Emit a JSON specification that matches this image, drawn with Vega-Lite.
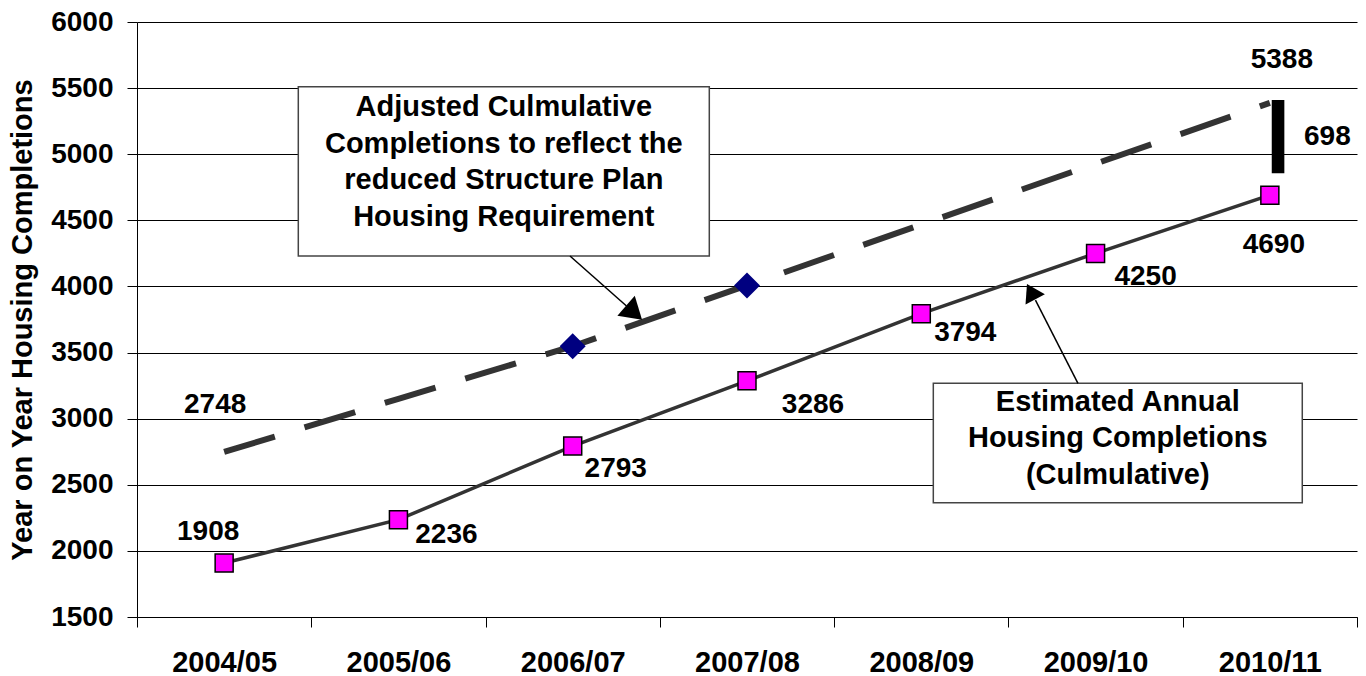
{
  "$schema": "https://vega.github.io/schema/vega-lite/v6.json",
  "width": 1220,
  "height": 595,
  "autosize": {"type": "none"},
  "padding": {"left": 137, "top": 22, "right": 9, "bottom": 59},
  "background": "white",
  "config": {
    "view": {"stroke": null},
    "font": "Liberation Sans",
    "text": {"font": "Liberation Sans", "fontWeight": "bold", "color": "#000000"}
  },
  "datasets": {
    "housing": [
      {"year": "2004/05", "period": 0, "estimated": 1908, "adjusted": 2748},
      {"year": "2005/06", "period": 1, "estimated": 2236, "adjusted": 3150},
      {"year": "2006/07", "period": 2, "estimated": 2793, "adjusted": 3548},
      {"year": "2007/08", "period": 3, "estimated": 3286, "adjusted": 4008},
      {"year": "2008/09", "period": 4, "estimated": 3794, "adjusted": 4468},
      {"year": "2009/10", "period": 5, "estimated": 4250, "adjusted": 4928},
      {"year": "2010/11", "period": 6, "estimated": 4690, "adjusted": 5388}
    ],
    "boxes": [
      {"name": "adjusted", "p0": 0.4255, "p1": 2.7837, "v0": 4230, "v1": 5511, "pt": 1.6046, "vt": 5289,
       "lines": ["Adjusted Culmulative", "Completions to reflect the", "reduced Structure Plan", "Housing Requirement"]},
      {"name": "estimated", "p0": 4.069, "p1": 6.186, "v0": 2364, "v1": 3267, "pt": 5.1275, "vt": 3060,
       "lines": ["Estimated Annual", "Housing Completions", "(Culmulative)"]}
    ],
    "arrows": [
      {"name": "adjusted", "p0": 1.9844, "v0": 4230, "p1": 2.3086, "v1": 3852, "ph": 2.352, "vh": 3801},
      {"name": "estimated", "p0": 4.899, "v0": 3267, "p1": 4.655, "v1": 3897, "ph": 4.63, "vh": 3960}
    ],
    "gap": [
      {"p": 6.047, "v0": 4856, "v1": 5410, "label": "698", "pl": 6.33, "vl": 5130}
    ]
  },
  "layer": [
    {
      "data": {"name": "housing"},
      "mark": {"type": "line", "stroke": "#333333", "strokeWidth": 6, "strokeDash": [53, 31], "strokeCap": "butt"},
      "encoding": {
        "x": {
          "field": "period", "type": "quantitative",
          "scale": {"domain": [-0.5, 6.5], "nice": false, "zero": false},
          "axis": {
            "title": null,
            "values": [-0.5, 0, 0.5, 1, 1.5, 2, 2.5, 3, 3.5, 4, 4.5, 5, 5.5, 6, 6.5],
            "grid": false,
            "domainColor": "#000000", "domainWidth": 1,
            "tickColor": "#000000", "tickSize": 10, "tickWidth": 1,
            "tickOpacity": {"condition": {"test": "datum.value % 1 === 0", "value": 0}, "value": 1},
            "labelExpr": "datum.value % 1 === 0 ? ['2004/05','2005/06','2006/07','2007/08','2008/09','2009/10','2010/11'][datum.value] : ''",
            "labelFont": "Liberation Sans", "labelFontSize": 29, "labelFontWeight": "bold", "labelColor": "#000000",
            "labelPadding": 21, "labelFlush": false, "labelOverlap": false, "labelBound": false
          }
        },
        "y": {
          "field": "adjusted", "type": "quantitative",
          "scale": {"domain": [1500, 6000], "nice": false, "zero": false},
          "axis": {
            "title": "Year on Year Housing Completions",
            "format": "d",
            "values": [1500, 2000, 2500, 3000, 3500, 4000, 4500, 5000, 5500, 6000],
            "grid": true, "gridColor": "#000000", "gridWidth": 1,
            "domainColor": "#000000", "domainWidth": 1,
            "tickColor": "#000000", "tickSize": 10, "tickWidth": 1,
            "labelFont": "Liberation Sans", "labelFontSize": 28, "labelFontWeight": "bold", "labelColor": "#000000",
            "labelPadding": 14, "labelFlush": false, "labelOverlap": false, "labelBound": false,
            "titleFont": "Liberation Sans", "titleFontSize": 29, "titleFontWeight": "bold", "titleColor": "#000000",
            "titlePadding": 13
          }
        }
      }
    },
    {
      "data": {"name": "housing"},
      "mark": {"type": "line", "stroke": "#333333", "strokeWidth": 3.5},
      "encoding": {
        "x": {"field": "period", "type": "quantitative"},
        "y": {"field": "estimated", "type": "quantitative"}
      }
    },
    {
      "data": {"name": "housing"},
      "mark": {"type": "point", "shape": "square", "size": 324, "filled": true, "fill": "#FF00FF", "stroke": "#000000", "strokeWidth": 1.5, "opacity": 1},
      "encoding": {
        "x": {"field": "period", "type": "quantitative"},
        "y": {"field": "estimated", "type": "quantitative"}
      }
    },
    {
      "data": {"name": "housing"},
      "transform": [{"filter": {"field": "year", "oneOf": ["2006/07", "2007/08"]}}],
      "mark": {"type": "point", "shape": "diamond", "size": 676, "filled": true, "fill": "#000080", "strokeWidth": 0, "opacity": 1},
      "encoding": {
        "x": {"field": "period", "type": "quantitative"},
        "y": {"field": "adjusted", "type": "quantitative"}
      }
    },
    {
      "data": {"name": "boxes"},
      "mark": {"type": "rect", "fill": "#FFFFFF", "stroke": "#444444", "strokeWidth": 1.5},
      "encoding": {
        "x": {"field": "p0", "type": "quantitative"},
        "x2": {"field": "p1"},
        "y": {"field": "v0", "type": "quantitative"},
        "y2": {"field": "v1"}
      }
    },
    {
      "data": {"name": "boxes"},
      "mark": {"type": "text", "align": "center", "baseline": "alphabetic", "fontSize": 29, "fontWeight": "bold", "lineHeight": 36.5, "color": "#000000"},
      "encoding": {
        "x": {"field": "pt", "type": "quantitative"},
        "y": {"field": "vt", "type": "quantitative"},
        "text": {"field": "lines"}
      }
    },
    {
      "data": {"name": "arrows"},
      "mark": {"type": "rule", "stroke": "#000000", "strokeWidth": 1.5},
      "encoding": {
        "x": {"field": "p0", "type": "quantitative"},
        "y": {"field": "v0", "type": "quantitative"},
        "x2": {"field": "p1"},
        "y2": {"field": "v1"}
      }
    },
    {
      "data": {"name": "arrows"},
      "transform": [{"filter": "datum.name === 'adjusted'"}],
      "mark": {"type": "point", "shape": "M0,-0.8L1,0.8L-1,0.8Z", "size": 700, "angle": 131, "filled": true, "fill": "#000000", "strokeWidth": 0, "opacity": 1},
      "encoding": {
        "x": {"field": "ph", "type": "quantitative"},
        "y": {"field": "vh", "type": "quantitative"}
      }
    },
    {
      "data": {"name": "arrows"},
      "transform": [{"filter": "datum.name === 'estimated'"}],
      "mark": {"type": "point", "shape": "M0,-0.8L1,0.8L-1,0.8Z", "size": 480, "angle": 332, "filled": true, "fill": "#000000", "strokeWidth": 0, "opacity": 1},
      "encoding": {
        "x": {"field": "ph", "type": "quantitative"},
        "y": {"field": "vh", "type": "quantitative"}
      }
    },
    {
      "data": {"name": "gap"},
      "mark": {"type": "rule", "stroke": "#000000", "strokeWidth": 12.6, "strokeCap": "butt"},
      "encoding": {
        "x": {"field": "p", "type": "quantitative"},
        "y": {"field": "v0", "type": "quantitative"},
        "y2": {"field": "v1"}
      }
    },
    {
      "data": {"name": "gap"},
      "mark": {"type": "text", "align": "center", "baseline": "middle", "fontSize": 28, "fontWeight": "bold"},
      "encoding": {
        "x": {"field": "pl", "type": "quantitative"},
        "y": {"field": "vl", "type": "quantitative"},
        "text": {"field": "label"}
      }
    },
    {
      "data": {"name": "housing"},
      "transform": [{"filter": "datum.year === '2004/05'"}],
      "mark": {"type": "text", "align": "center", "baseline": "middle", "fontSize": 28, "fontWeight": "bold", "dx": -16, "dy": -31},
      "encoding": {
        "x": {"field": "period", "type": "quantitative"},
        "y": {"field": "estimated", "type": "quantitative"},
        "text": {"field": "estimated", "type": "quantitative", "format": "d"}
      }
    },
    {
      "data": {"name": "housing"},
      "transform": [{"filter": "datum.year === '2005/06'"}],
      "mark": {"type": "text", "align": "center", "baseline": "middle", "fontSize": 28, "fontWeight": "bold", "dx": 48, "dy": 15},
      "encoding": {
        "x": {"field": "period", "type": "quantitative"},
        "y": {"field": "estimated", "type": "quantitative"},
        "text": {"field": "estimated", "type": "quantitative", "format": "d"}
      }
    },
    {
      "data": {"name": "housing"},
      "transform": [{"filter": "datum.year === '2006/07'"}],
      "mark": {"type": "text", "align": "center", "baseline": "middle", "fontSize": 28, "fontWeight": "bold", "dx": 43, "dy": 23},
      "encoding": {
        "x": {"field": "period", "type": "quantitative"},
        "y": {"field": "estimated", "type": "quantitative"},
        "text": {"field": "estimated", "type": "quantitative", "format": "d"}
      }
    },
    {
      "data": {"name": "housing"},
      "transform": [{"filter": "datum.year === '2007/08'"}],
      "mark": {"type": "text", "align": "center", "baseline": "middle", "fontSize": 28, "fontWeight": "bold", "dx": 66, "dy": 24},
      "encoding": {
        "x": {"field": "period", "type": "quantitative"},
        "y": {"field": "estimated", "type": "quantitative"},
        "text": {"field": "estimated", "type": "quantitative", "format": "d"}
      }
    },
    {
      "data": {"name": "housing"},
      "transform": [{"filter": "datum.year === '2008/09'"}],
      "mark": {"type": "text", "align": "center", "baseline": "middle", "fontSize": 28, "fontWeight": "bold", "dx": 44, "dy": 19},
      "encoding": {
        "x": {"field": "period", "type": "quantitative"},
        "y": {"field": "estimated", "type": "quantitative"},
        "text": {"field": "estimated", "type": "quantitative", "format": "d"}
      }
    },
    {
      "data": {"name": "housing"},
      "transform": [{"filter": "datum.year === '2009/10'"}],
      "mark": {"type": "text", "align": "center", "baseline": "middle", "fontSize": 28, "fontWeight": "bold", "dx": 50, "dy": 24},
      "encoding": {
        "x": {"field": "period", "type": "quantitative"},
        "y": {"field": "estimated", "type": "quantitative"},
        "text": {"field": "estimated", "type": "quantitative", "format": "d"}
      }
    },
    {
      "data": {"name": "housing"},
      "transform": [{"filter": "datum.year === '2010/11'"}],
      "mark": {"type": "text", "align": "center", "baseline": "middle", "fontSize": 28, "fontWeight": "bold", "dx": 4, "dy": 50},
      "encoding": {
        "x": {"field": "period", "type": "quantitative"},
        "y": {"field": "estimated", "type": "quantitative"},
        "text": {"field": "estimated", "type": "quantitative", "format": "d"}
      }
    },
    {
      "data": {"name": "housing"},
      "transform": [{"filter": "datum.year === '2004/05'"}],
      "mark": {"type": "text", "align": "center", "baseline": "middle", "fontSize": 28, "fontWeight": "bold", "dx": -9, "dy": -47},
      "encoding": {
        "x": {"field": "period", "type": "quantitative"},
        "y": {"field": "adjusted", "type": "quantitative"},
        "text": {"field": "adjusted", "type": "quantitative", "format": "d"}
      }
    },
    {
      "data": {"name": "housing"},
      "transform": [{"filter": "datum.year === '2010/11'"}],
      "mark": {"type": "text", "align": "center", "baseline": "middle", "fontSize": 28, "fontWeight": "bold", "dx": 12, "dy": -43},
      "encoding": {
        "x": {"field": "period", "type": "quantitative"},
        "y": {"field": "adjusted", "type": "quantitative"},
        "text": {"field": "adjusted", "type": "quantitative", "format": "d"}
      }
    }
  ]
}
